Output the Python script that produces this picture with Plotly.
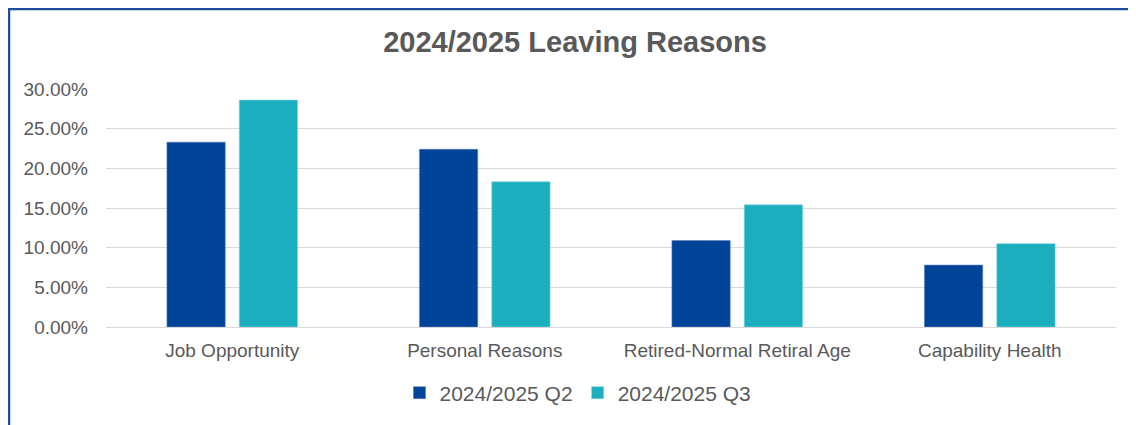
import plotly.graph_objects as go

categories = ["Job Opportunity", "Personal Reasons", "Retired-Normal Retiral Age", "Capability Health"]
q2_values = [0.233, 0.224, 0.109, 0.078]
q3_values = [0.286, 0.183, 0.154, 0.105]
series_names = ["2024/2025 Q2", "2024/2025 Q3"]
y_ticks = [0, 0.05, 0.10, 0.15, 0.20, 0.25, 0.30]

FONT = "Liberation Sans, Arial, sans-serif"
GRAY = "#595959"

fig = go.Figure()
fig.add_trace(go.Bar(x=categories, y=q2_values, name=series_names[0],
                     marker=dict(color="#00449A", line=dict(color="#5A7FC0", width=0.6))))
fig.add_trace(go.Bar(x=categories, y=q3_values, name=series_names[1],
                     marker=dict(color="#1AAEBE", line=dict(color="#7FD2DB", width=0.6))))

# page has an 8px body margin; work in page coordinates and convert
OFF = 8
W, H = 1136 - OFF, 425 - OFF
L, R, T, B = 106 - OFF, 1116 - OFF, 89 - OFF, 327 - OFF
pw, ph = R - L, B - T

def px(x):
    return (x - OFF - L) / pw

def py(y):
    return (B - (y - OFF)) / ph

fig.update_layout(
    width=W, height=H,
    margin=dict(l=L, r=W - R, t=T, b=H - B),
    paper_bgcolor="white", plot_bgcolor="white",
    barmode="group", bargap=0.427, bargroupgap=0.194,
    font=dict(family=FONT, color=GRAY, size=19),
    title=dict(text="<b>2024/2025 Leaving Reasons</b>", x=px(575), xref="paper", xanchor="center",
               y=1 - (42 - OFF) / H, yref="container", yanchor="middle",
               font=dict(family=FONT, size=29, color=GRAY)),
    legend=dict(orientation="h", x=px(578), xanchor="center", y=py(393), yanchor="middle",
                font=dict(family=FONT, size=21, color=GRAY), itemwidth=30,
                traceorder="normal"),
    xaxis=dict(showgrid=False, showline=False, ticks="", ticklabelstandoff=10,
               tickfont=dict(size=19, color=GRAY)),
    yaxis=dict(range=[0, 0.30], tickvals=y_ticks, tickformat=".2%", showgrid=True,
               gridcolor="#D9D9D9", gridwidth=1, zeroline=True, zerolinecolor="#D9D9D9",
               zerolinewidth=1, showline=False, ticks="", ticklabelstandoff=17,
               tickfont=dict(size=19, color=GRAY)),
    shapes=[
        dict(type="line", xref="paper", yref="paper", x0=px(8), x1=px(8), y0=py(8), y1=py(440),
             line=dict(color="#1F4E9C", width=4.5)),
        dict(type="line", xref="paper", yref="paper", x0=px(8), x1=px(1150), y0=py(8), y1=py(8),
             line=dict(color="#1F4E9C", width=4.5)),
    ],
)

fig.write_html("out.html")
